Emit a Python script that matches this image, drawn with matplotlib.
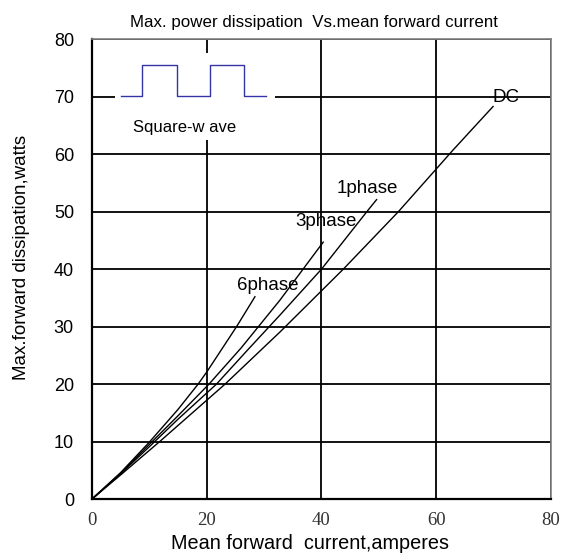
import numpy as np
import matplotlib
matplotlib.use("Agg")
import matplotlib.pyplot as plt
from matplotlib.patches import Rectangle

# curves (mean forward current A, max dissipation W)
x_6ph = [0, 5, 10, 15, 18.5, 20, 25.2, 28.4]
y_6ph = [0, 4.6, 9.9, 15.6, 20, 22.1, 30, 35.2]
x_3ph = [0, 5, 10, 15, 20.4, 26, 32.75, 40.3]
y_3ph = [0, 4.5, 9.5, 14.5, 20, 26.3, 34.6, 44.7]
x_1ph = [0, 5, 10, 15, 21.7, 27, 32.75, 40, 47.9, 49.6]
y_1ph = [0, 4.4, 9.1, 13.9, 20, 25.8, 32.0, 40, 50, 52.1]
x_dc = [0, 5, 11.8, 23.2, 32.8, 43.8, 53.4, 62.9, 69.9]
y_dc = [0, 4.2, 10, 20, 29.1, 40, 50, 60.7, 68.3]

curve_labels = ["6phase", "3phase", "1phase", "DC"]
label_pos = [(30.7, 37.1), (40.8, 48.3), (47.9, 54.0), (72.2, 69.8)]

# square wave sketch in the inset
sq_t = [5.0, 8.66, 8.66, 14.75, 14.75, 20.56, 20.56, 26.5, 26.5, 30.3]
sq_v = [70.2, 70.2, 75.6, 75.6, 70.2, 70.2, 75.6, 75.6, 70.2, 70.2]

xticks = [0, 20, 40, 60, 80]
yticks = [0, 10, 20, 30, 40, 50, 60, 70, 80]

sans = ["Liberation Sans", "DejaVu Sans"]
narrow = ["Liberation Sans Narrow", "Liberation Sans", "DejaVu Sans"]

fig = plt.figure(figsize=(5.62, 5.56), dpi=100)
ax = fig.add_axes([0.1637, 0.1025, 0.8167, 0.8268])
ax.set_xlim(0, 80)
ax.set_ylim(0, 80)
ax.set_xticks(xticks)
ax.set_yticks(yticks)
ax.grid(True, color="black", linewidth=1.3, zorder=1)
ax.set_axisbelow(True)

# white box masking the grid behind the inset
ax.add_patch(Rectangle((4.0, 62.4), 27.9, 15.3, facecolor="white", edgecolor="none", zorder=1.5))
ax.plot(sq_t, sq_v, color="#3434a4", linewidth=1.0, zorder=3)
ax.text(16.2, 64.6, "Square-w ave", family=sans, fontsize=12, ha="center", va="center", zorder=3)

for xs, ys in [(x_6ph, y_6ph), (x_3ph, y_3ph), (x_1ph, y_1ph), (x_dc, y_dc)]:
    ax.plot(xs, ys, color="black", linewidth=1.0, zorder=3)
for lab, (lx, ly) in zip(curve_labels, label_pos):
    ax.text(lx, ly, lab, family=sans, fontsize=13.5, ha="center", va="center", zorder=4)

for s in ["left", "bottom"]:
    ax.spines[s].set_color("black")
    ax.spines[s].set_linewidth(1.6)
for s in ["top", "right"]:
    ax.spines[s].set_color("#808080")
    ax.spines[s].set_linewidth(1.2)

ax.tick_params(length=0)
ax.tick_params(axis="y", pad=13, labelsize=13)
ax.tick_params(axis="x", pad=9, labelsize=13.5, labelcolor="#333333")
for t in ax.get_yticklabels():
    t.set_family(sans)
for t in ax.get_xticklabels():
    t.set_family(["Liberation Serif", "DejaVu Serif"])

ax.set_title("Max. power dissipation  Vs.mean forward current", family=narrow, fontsize=12.2, pad=9, x=0.483)
ax.set_xlabel("Mean forward  current,amperes", family=sans, fontsize=14.3)
ax.xaxis.set_label_coords(0.474, -0.077)
ax.set_ylabel("Max.forward dissipation,watts", family=sans, fontsize=13.5)
ax.yaxis.set_label_coords(-0.135, 0.526)

fig.savefig("out.png", dpi=100)
